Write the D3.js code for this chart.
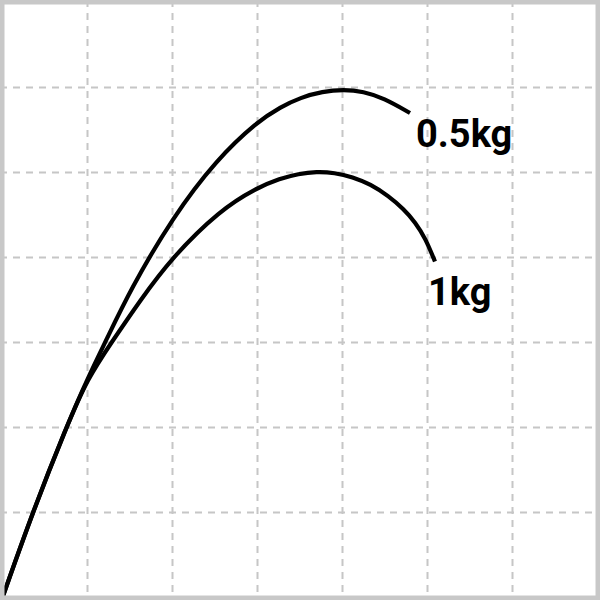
<!DOCTYPE html>
<html>
<head>
<meta charset="utf-8">
<script src="https://cdn.jsdelivr.net/npm/d3@7"></script>
<style>
  html, body { margin: 0; padding: 0; background: #fff; }
  svg { display: block; }
</style>
</head>
<body>
<div id="chart"></div>
<script>
// Data (in grid units)
const gridTicks = [1, 2, 3, 4, 5, 6];
const seriesNames = ["0.5kg", "1kg"];
const x05 = [0, 0.353, 0.753, 1.0, 1.224, 1.506, 2.0, 2.518, 3.0, 3.271, 3.506, 3.765, 4.012, 4.247, 4.482, 4.794];
const y05 = [0, 1.0, 2.012, 2.576, 3.035, 3.624, 4.471, 5.153, 5.6, 5.771, 5.882, 5.953, 5.976, 5.953, 5.876, 5.7];
const x1 = [0, 0.353, 0.753, 1.0, 1.282, 1.618, 1.988, 2.559, 2.988, 3.265, 3.482, 3.694, 3.906, 4.118, 4.329, 4.541, 4.718, 4.859, 4.976, 5.088];
const y1 = [0, 1.0, 2.006, 2.576, 3.0, 3.494, 3.994, 4.559, 4.818, 4.929, 4.985, 5.01, 4.998, 4.948, 4.862, 4.724, 4.571, 4.412, 4.224, 3.953];

const W = 600, H = 600;
const svg = d3.select("#chart").append("svg").attr("width", W).attr("height", H);

const x = d3.scaleLinear().domain([0, 7]).range([2.5, 597.5]);
const y = d3.scaleLinear().domain([0, 7]).range([597.5, 2.5]);

// grid
const grid = svg.append("g");
grid.selectAll("line.v").data(gridTicks).enter().append("line")
  .attr("x1", d => x(d)).attr("x2", d => x(d))
  .attr("y1", 0).attr("y2", H)
  .attr("stroke", "#c6c6c6").attr("stroke-width", 2).attr("stroke-dasharray", "7,6");
grid.selectAll("line.h").data(gridTicks).enter().append("line")
  .attr("y1", d => y(d)).attr("y2", d => y(d))
  .attr("x1", 0).attr("x2", W)
  .attr("stroke", "#c6c6c6").attr("stroke-width", 2).attr("stroke-dasharray", "7,6");

const line = d3.line().x(d => x(d[0])).y(d => y(d[1])).curve(d3.curveBasis);
const series = [
  { name: seriesNames[0], pts: x05.map((v, i) => [v, y05[i]]) },
  { name: seriesNames[1], pts: x1.map((v, i) => [v, y1[i]]) }
];
svg.selectAll("path.s").data(series).enter().append("path")
  .attr("d", d => line(d.pts))
  .attr("fill", "none").attr("stroke", "#000").attr("stroke-width", 4.2);

// labels
svg.append("text").attr("x", 416).attr("y", 147).text(seriesNames[0])
  .attr("font-family", "Roboto").attr("font-weight", 700).attr("font-size", 38).attr("fill", "#000");
svg.append("text").attr("x", 428).attr("y", 305).text(seriesNames[1])
  .attr("font-family", "Roboto").attr("font-weight", 700).attr("font-size", 38).attr("fill", "#000");

// border
svg.append("rect").attr("x", 2.25).attr("y", 2.25).attr("width", W - 4.5).attr("height", H - 4.5)
  .attr("fill", "none").attr("stroke", "#c8c8c8").attr("stroke-width", 4.5);
</script>
</body>
</html>
